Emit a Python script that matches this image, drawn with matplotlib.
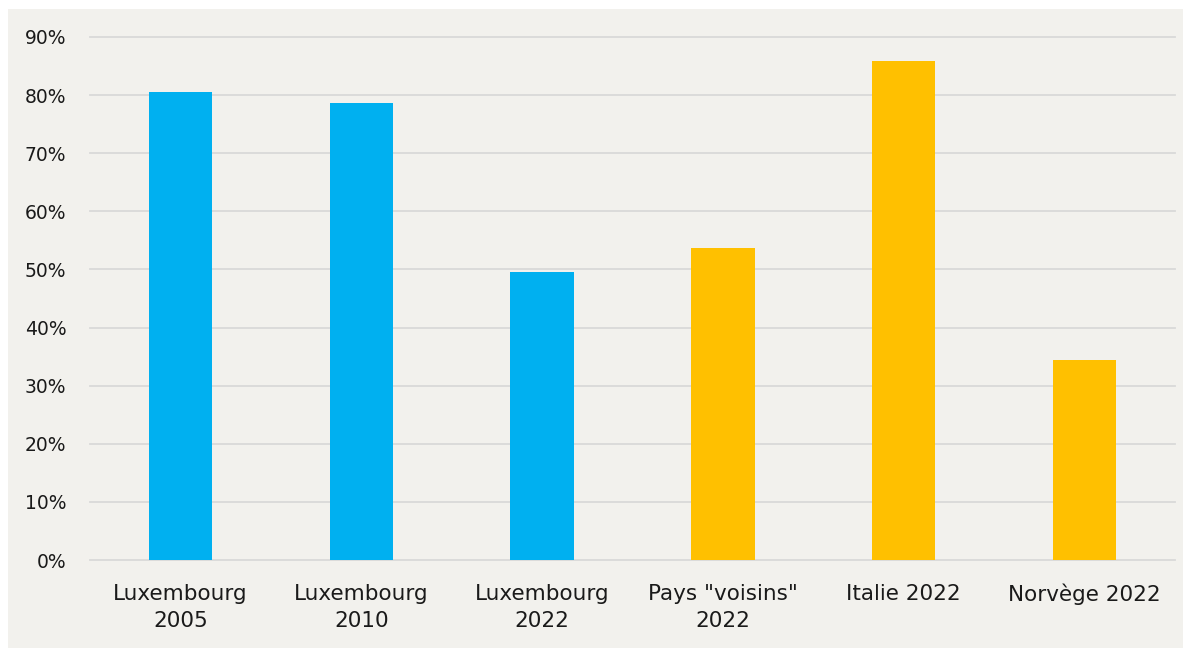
import matplotlib
matplotlib.use('Agg')
import matplotlib.pyplot as plt
from matplotlib.patches import Rectangle
from matplotlib.ticker import FuncFormatter

categories = ['Luxembourg\n2005', 'Luxembourg\n2010', 'Luxembourg\n2022',
              'Pays "voisins"\n2022', 'Italie 2022', 'Norvège 2022']
values = [80.6, 78.7, 49.6, 53.7, 85.9, 34.4]
bar_colors = ['#00B0F0', '#00B0F0', '#00B0F0', '#FFC000', '#FFC000', '#FFC000']
yticks = [0, 10, 20, 30, 40, 50, 60, 70, 80, 90]

W, H = 1191, 650
fig = plt.figure(figsize=(W / 100, H / 100), dpi=100, facecolor='white')

# light panel behind the chart
fig.patches.append(Rectangle((8 / W, 2 / H), 1175 / W, 639 / H,
                             transform=fig.transFigure, facecolor='#F2F1ED',
                             edgecolor='none', zorder=-10))

ax = fig.add_axes([90 / W, 90 / H, 1085 / W, 523 / H])
ax.set_zorder(1)
ax.set_facecolor('none')

x = range(len(categories))
ax.bar(x, values, width=0.35, color=bar_colors, zorder=3)

ax.set_xlim(-0.5, len(categories) - 0.5)
ax.set_ylim(0, 90)
ax.set_yticks(yticks)
ax.yaxis.set_major_formatter(FuncFormatter(lambda v, _: f'{v:.0f}%'))
ax.grid(axis='y', color='#D9D9D9', linewidth=1.3, zorder=0)
for gl in ax.get_ygridlines():
    gl.set_clip_on(False)

ax.set_xticks(list(x))
ax.set_xticklabels(categories, linespacing=1.45)
ax.tick_params(axis='both', length=0, labelcolor='#1a1a1a')
ax.tick_params(axis='y', pad=17, labelsize=13.5)
ax.tick_params(axis='x', pad=17, labelsize=15.5)

for side in ['top', 'right', 'left', 'bottom']:
    ax.spines[side].set_visible(False)

fig.savefig('out.png', dpi=100, facecolor='white')
